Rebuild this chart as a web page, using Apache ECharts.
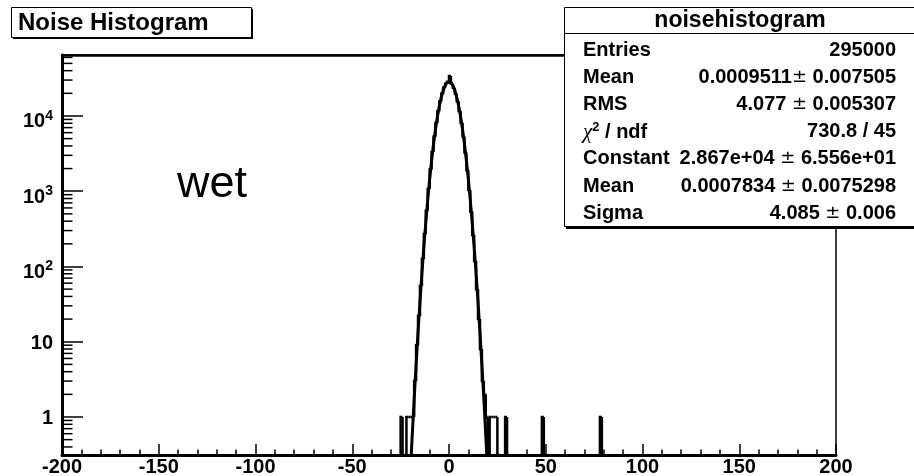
<!DOCTYPE html>
<html><head><meta charset="utf-8">
<script src="https://cdn.jsdelivr.net/npm/echarts@6/dist/echarts.min.js"></script>
<style>html,body{margin:0;padding:0;background:#fff}#c{width:914px;height:476px}</style>
</head><body><div id="c"></div>
<script>
// ---- axis ticks ----
const xTicks = [-200, -150, -100, -50, 0, 50, 100, 150, 200];
const yTickValues = [1, 10, 100, 1000, 10000];
const yTickLabels = ['1', '10', '10^2', '10^3', '10^4'];
const yMinorMult = [2, 3, 4, 5, 6, 7, 8, 9];
const yRange = [0.3126, 64600];

// ---- histogram (bin width 1, lower edges of non-empty bins) ----
const binLow = [-25, -22, -21, -20, -19, -18, -17, -16, -15, -14, -13, -12, -11, -10, -9, -8, -7, -6, -5, -4, -3, -2, -1,
  0, 1, 2, 3, 4, 5, 6, 7, 8, 9, 10, 11, 12, 13, 14, 15, 16, 17, 18, 19, 21, 22, 23, 24, 29, 48, 78];
const binCount = [1, 1, 1, 1, 1, 3, 9, 22, 55, 126, 271, 552, 1068, 1937, 3310, 5290, 8050, 11540, 15560, 19810, 23700, 26850, 28420,
  34000, 26820, 23740, 19900, 15660, 11610, 8110, 5330, 3275, 1905, 1041, 538, 262, 118, 50, 20, 8, 3, 2, 1, 1, 1, 1, 1, 1, 1, 1];

// ---- gaussian fit curve ----
const fitX = [-20, -19, -18, -17, -16, -15, -14, -13, -12, -11, -10, -9, -8, -7, -6, -5, -4, -3, -2, -1, 0,
  1, 2, 3, 4, 5, 6, 7, 8, 9, 10, 11, 12, 13, 14, 15, 16, 17, 18, 19, 20];
const fitY = [0.179, 0.575, 1.74, 4.97, 13.4, 33.9, 80.7, 181, 383, 764, 1433, 2531, 4212, 6604, 9749, 13555, 17751, 21893, 25432, 27824, 28670,
  27824, 25432, 21893, 17751, 13555, 9749, 6604, 4212, 2531, 1433, 764, 383, 181, 80.7, 33.9, 13.4, 4.97, 1.74, 0.575, 0.179];

// ---- texts ----
const titleText = 'Noise Histogram';
const statsTitle = 'noisehistogram';
const statsNames = ['Entries', 'Mean', 'RMS', 'chi2', 'Constant', 'Mean', 'Sigma'];
const statsValues = [
  ['295000'],
  ['0.0009511', '0.007505'],
  ['4.077 ', '0.005307'],
  ['730.8 / 45'],
  ['2.867e+04 ', '6.556e+01'],
  ['0.0007834 ', '0.0075298'],
  ['4.085 ', '0.006']
];
const noteText = 'wet';

const FONT = '"Liberation Sans", Arial, sans-serif';

// build histogram items
const cnt = {};
binLow.forEach((b, i) => { cnt[b] = binCount[i]; });
const loMin = Math.min(...binLow), loMax = Math.max(...binLow);
const histItems = [];
for (let lo = loMin; lo <= loMax + 1; lo++) {
  const c = cnt[lo] || 0, p = cnt[lo - 1] || 0;
  if (c === 0 && p === 0) continue;
  histItems.push([lo, lo + 1, c, p]);
}
// minor y ticks
const minorItems = [];
for (let e = -1; e <= 4; e++) {
  yMinorMult.forEach(m => {
    const v = m * Math.pow(10, e);
    if (v > yRange[0] && v < yRange[1]) minorItems.push([xTicks[0], v]);
  });
}

const chart = echarts.init(document.getElementById('c'), null, {renderer: 'canvas'});

const statsEls = [];
const rowY0 = 50, rowDy = 27.2;
statsNames.forEach((n, i) => {
  const y = rowY0 + i * rowDy;
  if (n === 'chi2') {
    statsEls.push({type: 'text', z: 102, style: {
      x: 583, y: y, text: '{c|χ}{s|2}{l| / ndf}', verticalAlign: 'middle', textVerticalAlign: 'middle',
      rich: {
        c: {fontFamily: '"Liberation Serif", serif', fontStyle: 'italic', fontSize: 21, fill: '#000', lineHeight: 22, verticalAlign: 'bottom'},
        s: {fontFamily: FONT, fontWeight: 'bold', fontSize: 13, fill: '#000', lineHeight: 13, verticalAlign: 'top'},
        l: {fontFamily: FONT, fontWeight: 'bold', fontSize: 20, fill: '#000', lineHeight: 22, verticalAlign: 'bottom'}
      }}});
  } else {
    statsEls.push({type: 'text', z: 102, style: {
      x: 583, y: y, text: n, fill: '#000', font: 'bold 20px ' + FONT,
      verticalAlign: 'middle', textVerticalAlign: 'middle'}});
  }
  const v = statsValues[i];
  let txt;
  if (v.length === 1) txt = '{v|' + v[0] + '}';
  else txt = '{v|' + v[0] + '}{p|±}{v| ' + v[1] + '}';
  statsEls.push({type: 'text', z: 102, style: {
    x: 896, y: y, text: txt, align: 'right', textAlign: 'right', verticalAlign: 'middle', textVerticalAlign: 'middle',
    rich: {
      v: {fontFamily: FONT, fontWeight: 'bold', fontSize: 20, fill: '#000'},
      p: {fontFamily: '"DejaVu Sans", sans-serif', fontWeight: 'normal', fontSize: 18, fill: '#000'}
    }}});
});

const option = {
  animation: false,
  backgroundColor: '#fff',
  grid: {left: 62, right: 78, top: 55, bottom: 21, show: true, borderColor: '#000', borderWidth: 1.5,
    backgroundColor: 'transparent', containLabel: false, outerBoundsMode: 'none'},
  xAxis: [{
    type: 'value', min: xTicks[0], max: xTicks[xTicks.length - 1], interval: xTicks[1] - xTicks[0],
    axisLine: {show: true, onZero: false, lineStyle: {color: '#000', width: 3}},
    axisTick: {show: true, inside: true, length: 11, lineStyle: {color: '#000', width: 1.5}},
    minorTick: {show: true, splitNumber: 5, length: 5.5, lineStyle: {color: '#000', width: 1.5}},
    splitLine: {show: false}, minorSplitLine: {show: false},
    axisLabel: {color: '#000', fontFamily: FONT, fontWeight: 'bold', fontSize: 20, margin: 2,
      showMinLabel: true, showMaxLabel: true, hideOverlap: false,
      formatter: v => { const i = xTicks.indexOf(Math.round(v)); return i >= 0 ? String(xTicks[i]) : ''; }}
  }, {
    type: 'value', position: 'top', min: xTicks[0], max: xTicks[xTicks.length - 1], interval: xTicks[1] - xTicks[0],
    axisLine: {show: true, onZero: false, lineStyle: {color: '#000', width: 2.5}},
    axisTick: {show: false}, axisLabel: {show: false}, splitLine: {show: false}
  }],
  yAxis: {
    type: 'log', logBase: 10, min: yRange[0], max: yRange[1],
    axisLine: {show: true, onZero: false, lineStyle: {color: '#000', width: 3}},
    axisTick: {show: true, inside: true, length: 21, lineStyle: {color: '#000', width: 1.5}},
    minorTick: {show: false}, splitLine: {show: false},
    axisLabel: {color: '#000', margin: 9, showMinLabel: false, showMaxLabel: false, hideOverlap: false,
      formatter: v => {
        const e = Math.round(Math.log10(v));
        if (Math.abs(Math.log10(v) - e) > 1e-6) return '';
        const i = yTickValues.indexOf(Math.pow(10, e));
        if (i < 0) return '';
        const t = yTickLabels[i];
        if (t.indexOf('^') < 0) return '{n|' + t + '}';
        const parts = t.split('^');
        return '{b|' + parts[0] + '}{s|' + parts[1] + '}';
      },
      rich: {
        n: {fontFamily: FONT, fontWeight: 'bold', fontSize: 20, color: '#000', lineHeight: 20, padding: [3, 0, 0, 0]},
        b: {fontFamily: FONT, fontWeight: 'bold', fontSize: 20, color: '#000', lineHeight: 20, verticalAlign: 'bottom'},
        s: {fontFamily: FONT, fontWeight: 'bold', fontSize: 14, color: '#000', lineHeight: 32}
      }
    }
  },
  series: [
    {
      type: 'custom', name: 'hist', data: histItems, encode: {x: [0, 1], y: 2}, z: 3, clip: true,
      renderItem: (params, api) => {
        const cs = params.coordSys;
        const bottom = cs.y + cs.height;
        const lo = api.value(0), hi = api.value(1), c = api.value(2), p = api.value(3);
        const yOf = v => v > 0 ? Math.min(api.coord([lo, v])[1], bottom) : bottom;
        const x0 = api.coord([lo, 1])[0], x1 = api.coord([hi, 1])[0];
        const pts = [[x0, yOf(p)], [x0, yOf(c)], [x1, yOf(c)]];
        return {type: 'polyline', shape: {points: pts}, style: {stroke: '#000', lineWidth: 2.5, fill: null}};
      }
    },
    {
      type: 'line', name: 'fit', data: fitX.map((x, i) => [x, fitY[i]]), showSymbol: false, symbol: 'none',
      lineStyle: {color: '#000', width: 3}, clip: true, z: 4, silent: true
    },
    {
      type: 'custom', name: 'yminor', data: minorItems, encode: {x: 0, y: 1}, z: 5, silent: true,
      renderItem: (params, api) => {
        const cs = params.coordSys;
        const y = api.coord([api.value(0), api.value(1)])[1];
        return {type: 'line', shape: {x1: cs.x, y1: y, x2: cs.x + 10.5, y2: y}, style: {stroke: '#000', lineWidth: 1.5}};
      }
    }
  ],
  graphic: {elements: [
    // title box
    {type: 'rect', z: 100, shape: {x: 13, y: 9, width: 240, height: 30}, style: {fill: '#000'}},
    {type: 'rect', z: 101, shape: {x: 11.5, y: 7.5, width: 240, height: 30}, style: {fill: '#fff', stroke: '#000', lineWidth: 1}},
    {type: 'text', z: 102, style: {x: 18, y: 23, text: titleText, fill: '#000', font: 'bold 24px ' + FONT,
      verticalAlign: 'middle', textVerticalAlign: 'middle'}},
    // stats box
    {type: 'rect', z: 100, shape: {x: 566, y: 9, width: 360, height: 220}, style: {fill: '#000'}},
    {type: 'rect', z: 101, shape: {x: 564.5, y: 7.5, width: 360, height: 219}, style: {fill: '#fff', stroke: '#000', lineWidth: 1}},
    {type: 'line', z: 102, shape: {x1: 564.5, y1: 33.5, x2: 914, y2: 33.5}, style: {stroke: '#000', lineWidth: 1}},
    {type: 'text', z: 102, style: {x: 740, y: 20.5, text: statsTitle, fill: '#000', font: 'bold 23px ' + FONT,
      align: 'center', textAlign: 'center', verticalAlign: 'middle', textVerticalAlign: 'middle'}},
    ...statsEls,
    // note
    {type: 'text', z: 102, style: {x: 177, y: 185, text: noteText, fill: '#000', font: 'normal 45px ' + FONT,
      verticalAlign: 'middle', textVerticalAlign: 'middle'}}
  ]}
};
chart.setOption(option);
</script>
</body></html>
